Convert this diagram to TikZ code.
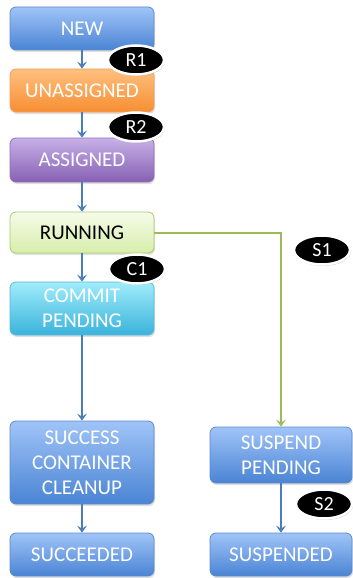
\documentclass[tikz,border=0pt]{standalone}
\usepackage{fontspec}
\setmainfont{Carlito}
\usetikzlibrary{shapes.geometric,shadows,arrows.meta}
\definecolor{bluetop}{HTML}{A0C4F8}
\definecolor{bluebot}{HTML}{4A84D4}
\definecolor{blueedge}{HTML}{5B8BCB}
\definecolor{orgtop}{HTML}{FFC07E}
\definecolor{orgbot}{HTML}{F78E33}
\definecolor{orgedge}{HTML}{F0A060}
\definecolor{purtop}{HTML}{C8B0E8}
\definecolor{purbot}{HTML}{8660B3}
\definecolor{puredge}{HTML}{8E70B8}
\definecolor{grntop}{HTML}{F6FBEA}
\definecolor{grnbot}{HTML}{D8EEAA}
\definecolor{grnedge}{HTML}{A9CC6A}
\definecolor{cyntop}{HTML}{A0ECFB}
\definecolor{cynbot}{HTML}{3AB3DB}
\definecolor{cynedge}{HTML}{58B8D8}
\definecolor{arrowblue}{HTML}{4A7EBB}
\definecolor{arrowgreen}{HTML}{9BBB59}
\tikzset{
  statebox/.style={rectangle, rounded corners=6pt, line width=0.8pt,
    minimum width=144pt, align=center, text=white,
    font=\fontsize{21}{25}\selectfont, inner sep=2pt,
    drop shadow={shadow xshift=1pt, shadow yshift=-2pt, opacity=0.25}},
  bluebox/.style={statebox, top color=bluetop, bottom color=bluebot, draw=blueedge},
  orangebox/.style={statebox, top color=orgtop, bottom color=orgbot, draw=orgedge},
  purplebox/.style={statebox, top color=purtop, bottom color=purbot, draw=puredge},
  greenbox/.style={statebox, top color=grntop, bottom color=grnbot, draw=grnedge, text=black},
  cyanbox/.style={statebox, top color=cyntop, bottom color=cynbot, draw=cynedge},
  tag/.style={ellipse, fill=black, draw=white, line width=2.5pt, text=white,
    minimum width=56pt, minimum height=29pt, inner sep=0pt,
    font=\fontsize{20}{22}\selectfont,
    drop shadow={shadow xshift=1pt, shadow yshift=-1.5pt, opacity=0.35}},
  bluearrow/.style={draw=arrowblue, line width=2pt, -{Stealth[length=7pt,width=10pt,inset=3pt]}},
  greenarrow/.style={draw=arrowgreen, line width=2pt, -{Stealth[length=7pt,width=10pt,inset=3pt]}}
}
\begin{document}
\begin{tikzpicture}[x=1pt,y=-1pt]
\useasboundingbox (0,0) rectangle (353,578);
\node[bluebox, minimum height=43pt] (new) at (82,28.5) {NEW};
\node[orangebox, minimum height=43pt] (unass) at (82,90.5) {UNASSIGNED};
\node[purplebox, minimum height=44pt] (ass) at (82,160) {ASSIGNED};
\node[greenbox, minimum height=41pt] (run) at (82,232.5) {RUNNING};
\node[cyanbox, minimum height=53pt] (commit) at (82,308.5) {COMMIT\\PENDING};
\node[bluebox, minimum height=83pt] (cleanup) at (82,462.5) {SUCCESS\\CONTAINER\\CLEANUP};
\node[bluebox, minimum height=43pt] (succ) at (82,554.5) {SUCCEEDED};
\node[bluebox, minimum height=56pt, minimum width=142pt] (susp) at (281,455) {SUSPEND\\PENDING};
\node[bluebox, minimum height=43pt, minimum width=142pt] (suspd) at (281,554.5) {SUSPENDED};

\draw[bluearrow] (new) -- (unass);
\draw[bluearrow] (unass) -- (ass);
\draw[bluearrow] (ass) -- (run);
\draw[bluearrow] (run) -- (commit);
\draw[bluearrow] (commit) -- (cleanup);
\draw[bluearrow] (cleanup) -- (succ);
\draw[bluearrow] (susp) -- (suspd);
\draw[greenarrow] (run.east) -| (susp.north);

\node[tag] (r1) at (136,60) {R1};
\node[tag] (r2) at (136,127) {R2};
\node[tag] (c1) at (137,269) {C1};
\node[tag] (s1) at (322,250) {S1};
\node[tag] (s2) at (324,504) {S2};
\end{tikzpicture}
\end{document}
